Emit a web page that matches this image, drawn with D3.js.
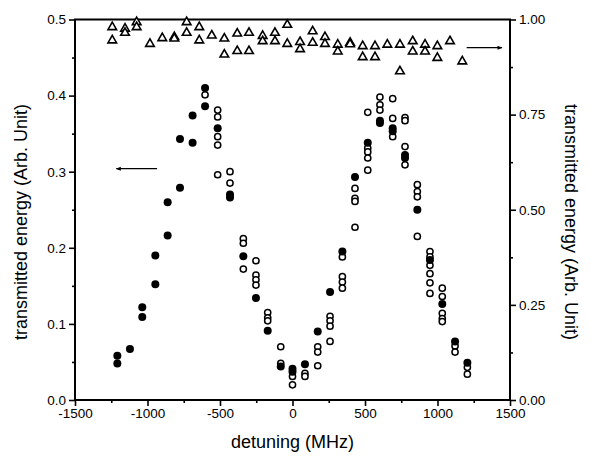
<!DOCTYPE html>
<html>
<head>
<meta charset="utf-8">
<script src="https://cdn.jsdelivr.net/npm/d3@7"></script>
<style>
  body { margin: 0; background: #fff; }
  text { font-family: "Liberation Sans", Arial, sans-serif; fill: #000; }
</style>
</head>
<body>
<svg id="chart" width="591" height="457"></svg>
<script>
// filled circles (left axis)
var filledDetuning = [-1208,-1208,-1121,-1036,-1036,-946,-946,-861,-861,-776,-776,-689,-689,-603,-603,
  -516,-431,-431,-339,-252,-171,-81,0,0,86,174,259,344,431,519,603,603,691,691,776,776,861,948,1033,1121,1206];
var filledEnergy = [0.058,0.048,0.067,0.122,0.109,0.152,0.190,0.216,0.260,0.279,0.343,0.338,0.374,0.410,0.386,
  0.357,0.270,0.266,0.189,0.134,0.091,0.044,0.041,0.037,0.047,0.090,0.142,0.195,0.293,0.338,0.367,0.364,0.357,0.353,0.322,0.318,0.250,0.184,0.126,0.077,0.049];

// open circles (left axis)
var openDetuning = [-603,
  -516,-516,-516,-516,-516,
  -431,-431,
  -339,-339,-339,
  -252,-252,-252,-252,
  -171,-171,-171,
  -81,-81,
  0,0,
  86,86,
  174,174,174,
  259,259,259,259,
  344,344,344,344,
  431,431,431,431,
  519,519,519,519,519,
  603,603,603,
  691,691,691,
  776,776,776,776,
  861,861,861,861,
  948,948,948,948,948,948,
  1033,1033,1033,1033,1033,
  1121,1121,
  1206,1206];
var openEnergy = [0.401,
  0.381,0.372,0.346,0.335,0.296,
  0.300,0.285,
  0.212,0.206,0.172,
  0.183,0.164,0.158,0.151,
  0.115,0.108,0.104,
  0.070,0.048,
  0.031,0.020,
  0.035,0.031,
  0.070,0.063,0.045,
  0.110,0.104,0.097,0.077,
  0.188,0.162,0.155,0.147,
  0.278,0.265,0.261,0.227,
  0.378,0.331,0.326,0.318,0.302,
  0.398,0.388,0.381,
  0.396,0.370,0.346,
  0.371,0.367,0.333,0.309,
  0.283,0.274,0.267,0.215,
  0.195,0.188,0.177,0.166,0.154,0.140,
  0.147,0.136,0.114,0.107,0.103,
  0.071,0.063,
  0.043,0.034];

// triangles (right axis)
var triDetuning = [-1243,-1243,-1155,-1155,-1075,-1075,-983,-898,-815,-815,-730,-730,-643,-643,-557,
  -470,-470,-381,-381,-300,-300,-206,-206,-121,-121,-36,-36,52,52,139,139,224,224,312,312,
  397,397,484,484,569,569,654,741,741,829,829,914,914,999,999,1086,1171];
var triEnergy = [0.980,0.945,0.976,0.965,0.993,0.980,0.936,0.951,0.954,0.950,0.993,0.965,0.980,0.945,0.958,
  0.950,0.908,0.963,0.917,0.965,0.917,0.957,0.943,0.965,0.943,0.986,0.936,0.941,0.922,0.969,0.939,0.954,0.936,0.934,0.916,
  0.939,0.935,0.930,0.901,0.930,0.901,0.934,0.934,0.864,0.943,0.916,0.934,0.916,0.930,0.899,0.943,0.890];

var xTicks = [-1500,-1000,-500,0,500,1000,1500];
var xMinor = [-1250,-750,-250,250,750,1250];
var yLeftTicks = [0,0.1,0.2,0.3,0.4,0.5];
var yLeftMinor = [0.05,0.15,0.25,0.35,0.45];
var yRightTicks = [0,0.25,0.5,0.75,1];
var yRightMinor = [0.125,0.375,0.625,0.875];

var svg = d3.select("#chart");
var mLeft = 75, mRight = 510, mTop = 19.5, mBottom = 400;

var x = d3.scaleLinear().domain([-1500,1500]).range([mLeft,mRight]);
var y = d3.scaleLinear().domain([0,0.5]).range([mBottom,mTop]);
var y2 = d3.scaleLinear().domain([0,1]).range([mBottom,mTop]);

function styleAxis(g) {
  g.select(".domain").remove();
  g.selectAll("line").attr("stroke","#000").attr("stroke-width",1.6);
  g.selectAll("text").style("font-size","13.5px").style("font-family","'Liberation Sans', Arial, sans-serif");
}

svg.append("g").attr("transform","translate(0,"+mBottom+")")
  .call(d3.axisBottom(x).tickValues(xTicks).tickFormat(function(d){ return String(d); }).tickSize(6).tickPadding(2))
  .call(styleAxis);
svg.append("g").attr("transform","translate(0,"+mBottom+")")
  .call(d3.axisBottom(x).tickValues(xMinor).tickFormat("").tickSize(3))
  .call(styleAxis);

svg.append("g").attr("transform","translate("+mLeft+",0)")
  .call(d3.axisLeft(y).tickValues(yLeftTicks).tickFormat(d3.format(".1f")).tickSize(6).tickPadding(3))
  .call(styleAxis);
svg.append("g").attr("transform","translate("+mLeft+",0)")
  .call(d3.axisLeft(y).tickValues(yLeftMinor).tickFormat("").tickSize(3))
  .call(styleAxis);

svg.append("g").attr("transform","translate("+mRight+",0)")
  .call(d3.axisRight(y2).tickValues(yRightTicks).tickFormat(d3.format(".2f")).tickSize(6).tickPadding(3))
  .call(styleAxis);
svg.append("g").attr("transform","translate("+mRight+",0)")
  .call(d3.axisRight(y2).tickValues(yRightMinor).tickFormat("").tickSize(3))
  .call(styleAxis);

// frame
svg.append("rect")
  .attr("x",mLeft).attr("y",mTop)
  .attr("width",mRight-mLeft).attr("height",mBottom-mTop)
  .attr("fill","none").attr("stroke","#000").attr("stroke-width",2);

// triangles
var tri = d3.symbol().type(d3.symbolTriangle).size(32);
svg.append("g").selectAll("path").data(triDetuning).enter()
  .append("path")
  .attr("d", tri)
  .attr("transform", function(d,i){ return "translate("+x(d)+","+y2(triEnergy[i])+")"; })
  .attr("fill","#fff").attr("stroke","#000").attr("stroke-width",1.6);

// open circles
svg.append("g").selectAll("circle").data(openDetuning).enter()
  .append("circle")
  .attr("cx", function(d){ return x(d); })
  .attr("cy", function(d,i){ return y(openEnergy[i]); })
  .attr("r",3.1)
  .attr("fill","#fff").attr("stroke","#000").attr("stroke-width",1.5);

// filled circles
svg.append("g").selectAll("circle").data(filledDetuning).enter()
  .append("circle")
  .attr("cx", function(d){ return x(d); })
  .attr("cy", function(d,i){ return y(filledEnergy[i]); })
  .attr("r",4)
  .attr("fill","#000");

// arrows
var defs = svg.append("defs");
defs.append("marker").attr("id","head")
  .attr("viewBox","0 0 10 10").attr("refX",9).attr("refY",5)
  .attr("markerWidth",7).attr("markerHeight",5).attr("orient","auto")
  .attr("markerUnits","userSpaceOnUse")
  .append("path").attr("d","M0,1 L10,5 L0,9 Z").attr("fill","#000");

svg.append("line")
  .attr("x1",x(-934)).attr("x2",x(-1215))
  .attr("y1",y(0.304)).attr("y2",y(0.304))
  .attr("stroke","#000").attr("stroke-width",1.3).attr("marker-end","url(#head)");
svg.append("line")
  .attr("x1",x(1201)).attr("x2",x(1445))
  .attr("y1",y2(0.926)).attr("y2",y2(0.926))
  .attr("stroke","#000").attr("stroke-width",1.3).attr("marker-end","url(#head)");

// titles
svg.append("text")
  .attr("x",(mLeft+mRight)/2).attr("y",448)
  .attr("text-anchor","middle").style("font-size","18px")
  .text("detuning (MHz)");
svg.append("text")
  .attr("transform","translate(27,222) rotate(-90)")
  .attr("text-anchor","middle").style("font-size","18px")
  .text("transmitted energy (Arb. Unit)");
svg.append("text")
  .attr("transform","translate(565,222) rotate(90)")
  .attr("text-anchor","middle").style("font-size","18px")
  .text("transmitted energy (Arb. Unit)");
</script>
</body>
</html>
